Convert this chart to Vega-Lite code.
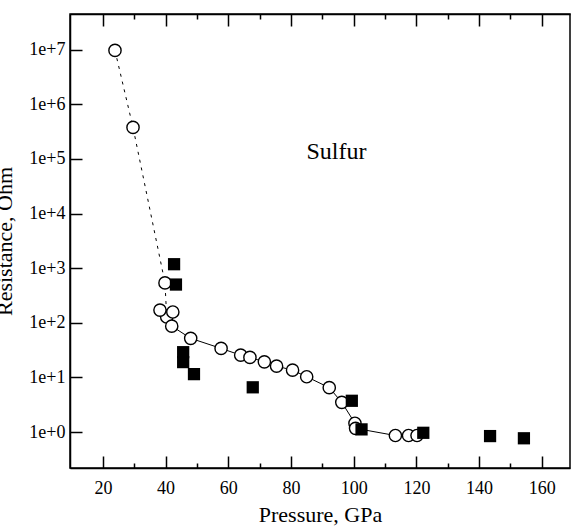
{
  "$schema": "https://vega.github.io/schema/vega-lite/v6.json",
  "width": 500,
  "height": 454,
  "autosize": {"type": "none"},
  "padding": {"left": 70, "top": 14, "right": 2, "bottom": 63},
  "background": "white",
  "config": {
    "view": {"stroke": "black", "strokeWidth": 1.5},
    "font": "Liberation Serif"
  },
  "datasets": {
    "circles": [
      {"seq": 1, "P": 23.85, "R": 9700000},
      {"seq": 2, "P": 29.6, "R": 378000},
      {"seq": 3, "P": 39.8, "R": 538},
      {"seq": 4, "P": 40.35, "R": 128},
      {"seq": 5, "P": 38.2, "R": 171},
      {"seq": 6, "P": 42.3, "R": 158},
      {"seq": 7, "P": 41.95, "R": 87},
      {"seq": 8, "P": 48.0, "R": 52},
      {"seq": 9, "P": 57.7, "R": 34},
      {"seq": 10, "P": 63.95, "R": 25.6},
      {"seq": 11, "P": 66.9, "R": 23.3},
      {"seq": 12, "P": 71.5, "R": 19.3},
      {"seq": 13, "P": 75.4, "R": 16.1},
      {"seq": 14, "P": 80.5, "R": 13.6},
      {"seq": 15, "P": 85.0, "R": 10.3},
      {"seq": 16, "P": 92.2, "R": 6.5},
      {"seq": 17, "P": 96.2, "R": 3.5},
      {"seq": 18, "P": 100.4, "R": 1.45},
      {"seq": 19, "P": 100.6, "R": 1.17},
      {"seq": 20, "P": 113.3, "R": 0.865},
      {"seq": 21, "P": 117.5, "R": 0.865},
      {"seq": 22, "P": 120.2, "R": 0.865}
    ],
    "squares": [
      {"P": 42.7, "R": 1183},
      {"P": 43.3, "R": 502},
      {"P": 45.6, "R": 29},
      {"P": 45.6, "R": 19.1},
      {"P": 49.05, "R": 11.5},
      {"P": 67.8, "R": 6.6},
      {"P": 99.4, "R": 3.74},
      {"P": 102.5, "R": 1.12},
      {"P": 122.2, "R": 0.97},
      {"P": 143.5, "R": 0.845},
      {"P": 154.3, "R": 0.77}
    ],
    "annot": [
      {"P": 94.5, "R": 135000, "label": "Sulfur"}
    ]
  },
  "layer": [
    {
      "data": {"name": "circles"},
      "transform": [{"filter": "datum.seq <= 4"}],
      "mark": {"type": "line", "color": "black", "strokeWidth": 1, "strokeDash": [3, 5]},
      "encoding": {
        "x": {"field": "P", "type": "quantitative", "scale": {"domain": [9.5, 169], "nice": false, "zero": false},
          "axis": {
            "orient": "bottom",
            "values": [20, 40, 60, 80, 100, 120, 140, 160],
            "ticks": false,
            "domain": true, "domainColor": "black", "domainWidth": 1.5,
            "grid": true, "gridColor": "black", "gridWidth": 1.5, "gridOpacity": 1, "gridDash": [12, 430, 12],
            "labelFont": "Liberation Serif", "labelColor": "black",
            "labelFontSize": 18,
            "labelPadding": 11,
            "title": "Pressure, GPa",
            "titleFont": "Liberation Serif", "titleColor": "black", "titleFontWeight": "normal",
            "titleFontSize": 22,
            "titlePadding": 7
          }},
        "y": {"field": "R", "type": "quantitative", "scale": {"type": "log", "domain": [0.22, 45000000], "nice": false},
          "axis": {
            "values": [1, 10, 100, 1000, 10000, 100000, 1000000, 10000000],
            "format": ".0e",
            "ticks": false,
            "domain": true, "domainColor": "black", "domainWidth": 1.5,
            "grid": true, "gridColor": "black", "gridWidth": 1.5, "gridOpacity": 1, "gridDash": [12, 2000],
            "labelFont": "Liberation Serif", "labelColor": "black",
            "labelFontSize": 18,
            "labelPadding": 5,
            "title": "Resistance, Ohm",
            "titleFont": "Liberation Serif", "titleColor": "black", "titleFontWeight": "normal",
            "titleFontSize": 22,
            "titlePadding": 12
          }}
      }
    },
    {
      "data": {"name": "circles"},
      "transform": [{"filter": "datum.seq >= 7"}],
      "mark": {"type": "line", "color": "black", "strokeWidth": 1},
      "encoding": {
        "x": {"field": "P", "type": "quantitative", "scale": {"domain": [9.5, 169], "nice": false, "zero": false},
          "axis": {
            "orient": "top",
            "values": [30, 50, 70, 90, 110, 130, 150],
            "ticks": false,
            "domain": true, "domainColor": "black", "domainWidth": 1.5,
            "labels": false,
            "title": null,
            "grid": true, "gridColor": "black", "gridWidth": 1.5, "gridOpacity": 1, "gridDash": [5, 444, 5]
          }},
        "y": {"field": "R", "type": "quantitative", "scale": {"type": "log", "domain": [0.22, 45000000], "nice": false}}
      }
    },
    {
      "data": {"name": "circles"},
      "mark": {"type": "point", "shape": "circle", "filled": true, "fill": "white", "stroke": "black", "strokeWidth": 1.4, "size": 150, "opacity": 1},
      "encoding": {
        "x": {"field": "P", "type": "quantitative", "scale": {"domain": [9.5, 169], "nice": false, "zero": false}, "axis": null},
        "y": {"field": "R", "type": "quantitative", "scale": {"type": "log", "domain": [0.22, 45000000], "nice": false}}
      }
    },
    {
      "data": {"name": "squares"},
      "mark": {"type": "point", "shape": "square", "filled": true, "color": "black", "size": 150, "opacity": 1},
      "encoding": {
        "x": {"field": "P", "type": "quantitative", "scale": {"domain": [9.5, 169], "nice": false, "zero": false}, "axis": null},
        "y": {"field": "R", "type": "quantitative", "scale": {"type": "log", "domain": [0.22, 45000000], "nice": false}}
      }
    },
    {
      "data": {"name": "annot"},
      "mark": {"type": "text", "font": "Liberation Serif", "fontSize": 24, "color": "black", "align": "center", "baseline": "middle"},
      "encoding": {
        "x": {"field": "P", "type": "quantitative", "scale": {"domain": [9.5, 169], "nice": false, "zero": false}, "axis": null},
        "y": {"field": "R", "type": "quantitative", "scale": {"type": "log", "domain": [0.22, 45000000], "nice": false}},
        "text": {"field": "label"}
      }
    }
  ],
  "resolve": {"axis": {"x": "independent"}}
}
